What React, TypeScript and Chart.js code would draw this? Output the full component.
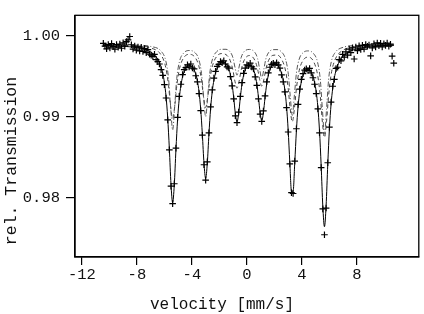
import React, { useEffect, useRef } from 'react';
import { Chart, registerables } from 'chart.js';

Chart.register(...registerables);

// velocity calibration of the measured channels (mm/s)
const V_START = -10.44;
const V_STEP = 0.12;

// measured relative transmission (+ markers)
const DATA = [
  0.99905, 0.99872, 0.99838, 0.99891, 0.9985, 0.99902, 0.99866, 0.99833, 0.99889, 0.99858,
  0.99896, 0.99845, 0.99912, 0.9987, 0.99927, 0.99948, 0.9999, 0.99888, 0.99835, 0.99872,
  0.9982, 0.99861, 0.99812, 0.99858, 0.99805, 0.9984, 0.9979, 0.99828, 0.99772, 0.9976,
  0.99745, 0.9977, 0.99705, 0.9968, 0.9965, 0.9958, 0.9951, 0.99395, 0.9923, 0.9896,
  0.9859, 0.9814, 0.97925, 0.9817, 0.9861, 0.9899, 0.9925, 0.994, 0.9952, 0.9958,
  0.99605, 0.9964, 0.99615, 0.9965, 0.996, 0.9959, 0.99505, 0.9943, 0.99285, 0.99075,
  0.9877, 0.98405, 0.98215, 0.9844, 0.988, 0.9912, 0.9933, 0.99475, 0.9956, 0.9962,
  0.99645, 0.9968, 0.99665, 0.9969, 0.9965, 0.99615, 0.996, 0.99495, 0.9938, 0.9922,
  0.9901, 0.98925, 0.99055, 0.9925, 0.9942, 0.99535, 0.996, 0.9964, 0.9963, 0.9966,
  0.99615, 0.9959, 0.9949, 0.99385, 0.9922, 0.9903, 0.9894, 0.9907, 0.99255, 0.9943,
  0.9954, 0.9961, 0.99645, 0.9966, 0.9964, 0.99665, 0.9964, 0.996, 0.99515, 0.9943,
  0.99305, 0.9911, 0.9881, 0.98415, 0.9806, 0.9805, 0.9845, 0.9885, 0.9915, 0.9934,
  0.9946, 0.9953, 0.99575, 0.9959, 0.9957, 0.99595, 0.9954, 0.9948, 0.994, 0.99285,
  0.99095, 0.988, 0.9837, 0.9786, 0.9754, 0.9787, 0.9843, 0.9887, 0.9918, 0.99375,
  0.9946, 0.99595, 0.9961, 0.99705, 0.9969, 0.9977, 0.99735, 0.998, 0.9976, 0.99835,
  0.9979, 0.9985, 0.99712, 0.9986, 0.99815, 0.99875, 0.9983, 0.9988, 0.99835, 0.9989,
  0.9987, 0.99885, 0.9975, 0.9985, 0.999, 0.9986, 0.9991, 0.99875, 0.99905, 0.9986,
  0.999, 0.9988, 0.99908, 0.9987, 0.99895, 0.99748, 0.9966,
];

// fitted total spectrum (solid line) on the same channels
const FIT = [
  0.9988, 0.99879, 0.99879, 0.99878, 0.99878, 0.99877, 0.99876, 0.99875, 0.99874, 0.99873,
  0.99872, 0.99871, 0.9987, 0.99868, 0.99867, 0.99865, 0.99863, 0.99861, 0.99858, 0.99856,
  0.99853, 0.9985, 0.99846, 0.99842, 0.99837, 0.99831, 0.99824, 0.99816, 0.99806, 0.99795,
  0.9978, 0.99762, 0.99739, 0.99709, 0.99669, 0.99614, 0.99536, 0.99422, 0.9925, 0.98987,
  0.98606, 0.98165, 0.97938, 0.98156, 0.98591, 0.98965, 0.9922, 0.99384, 0.99489, 0.99555,
  0.99597, 0.99622, 0.99631, 0.99628, 0.99612, 0.9958, 0.99527, 0.99442, 0.99305, 0.99093,
  0.98783, 0.98422, 0.98238, 0.98423, 0.98786, 0.99097, 0.99311, 0.9945, 0.99539, 0.99597,
  0.99636, 0.99659, 0.9967, 0.99671, 0.99659, 0.99635, 0.99591, 0.99519, 0.99405, 0.99235,
  0.99038, 0.98937, 0.99036, 0.99232, 0.99399, 0.99511, 0.9958, 0.99619, 0.99638, 0.99637,
  0.9962, 0.99582, 0.99514, 0.99404, 0.99241, 0.99049, 0.98952, 0.99047, 0.99238, 0.99402,
  0.99512, 0.9958, 0.9962, 0.99641, 0.99648, 0.99642, 0.99624, 0.9959, 0.99536, 0.99455,
  0.99328, 0.99132, 0.98835, 0.98433, 0.98079, 0.98078, 0.98429, 0.98827, 0.99121, 0.99311,
  0.99431, 0.99507, 0.99552, 0.99576, 0.99583, 0.99575, 0.99548, 0.99501, 0.99426, 0.99306,
  0.99118, 0.98823, 0.98395, 0.97893, 0.97639, 0.97901, 0.98409, 0.98847, 0.99151, 0.99349,
  0.99481, 0.9957, 0.99634, 0.9968, 0.99715, 0.99741, 0.99763, 0.99779, 0.99793, 0.99803,
  0.99813, 0.99821, 0.99828, 0.99834, 0.99838, 0.99843, 0.99847, 0.9985, 0.99853, 0.99856,
  0.99859, 0.9986, 0.99863, 0.99864, 0.99866, 0.99868, 0.99869, 0.9987, 0.99871, 0.99872,
  0.99873, 0.99875, 0.99875, 0.99876, 0.99877, 0.99878, 0.99879,
];

// subspectra (dash-dot and dashed curves)
const V_SUB = [
  -10.44, -9.2, -8.0, -7.0, -6.2, -5.9, -5.7, -5.55, -5.4, -5.25, -5.1, -4.9, -4.6, -4.2,
  -3.8, -3.5, -3.3, -3.15, -3.0, -2.85, -2.7, -2.5, -2.2, -1.86, -1.52, -1.22, -1.02, -0.87,
  -0.72, -0.57, -0.42, -0.22, 0.18, 0.58, 0.78, 0.93, 1.08, 1.23, 1.38, 1.58, 1.88, 2.19,
  2.5, 2.8, 3.0, 3.15, 3.3, 3.45, 3.6, 3.8, 4.1, 4.47, 4.84, 5.14, 5.34, 5.49, 5.64, 5.79,
  5.94, 6.14, 6.44, 7.0, 8.0, 9.2, 10.7,
];
const SUB_A = [
  0.99891, 0.99888, 0.99883, 0.99867, 0.99801, 0.9969, 0.99476, 0.9913, 0.98834, 0.99128,
  0.99472, 0.99682, 0.99785, 0.99817, 0.99794, 0.99708, 0.99532, 0.99244, 0.98998, 0.99246,
  0.99535, 0.99712, 0.99802, 0.99832, 0.99832, 0.998, 0.9973, 0.99612, 0.99511, 0.99612,
  0.99729, 0.998, 0.9983, 0.99793, 0.99715, 0.99584, 0.99471, 0.99583, 0.99714, 0.99792,
  0.99827, 0.99828, 0.99802, 0.99714, 0.99541, 0.99257, 0.99015, 0.99256, 0.99537, 0.99709,
  0.99792, 0.99812, 0.9978, 0.99671, 0.99451, 0.99091, 0.98783, 0.99093, 0.99456, 0.9968,
  0.99797, 0.99856, 0.9988, 0.99887, 0.99891,
];
const SUB_B = [
  0.99888, 0.99884, 0.99874, 0.99849, 0.99751, 0.99607, 0.99386, 0.99132, 0.98976, 0.99127,
  0.99378, 0.99594, 0.99726, 0.9977, 0.99738, 0.99629, 0.99449, 0.99239, 0.99112, 0.99241,
  0.99452, 0.9963, 0.99743, 0.99779, 0.99766, 0.99696, 0.99577, 0.99437, 0.99351, 0.99435,
  0.99573, 0.99689, 0.99755, 0.99695, 0.99586, 0.99456, 0.99376, 0.99455, 0.99586, 0.99696,
  0.99757, 0.99761, 0.99715, 0.99576, 0.99352, 0.99093, 0.98935, 0.99091, 0.99347, 0.99567,
  0.99699, 0.99735, 0.99683, 0.99516, 0.99246, 0.98931, 0.98741, 0.98936, 0.99256, 0.99534,
  0.99715, 0.99821, 0.99866, 0.9988, 0.99887,
];

const X_TICKS = [-12, -8, -4, 0, 4, 8];
const Y_TICKS = [0.98, 0.99, 1.0];
const X_MIN = -12.5;
const X_MAX = 12.5;
const Y_MIN = 0.97265;
const Y_MAX = 1.00252;
const X_TITLE = 'velocity [mm/s]';
const Y_TITLE = 'rel. Transmission';

const FONT = '"Liberation Mono", "DejaVu Sans Mono", monospace';

const framePlugin = {
  id: 'frameAndTitles',
  afterDraw(chart: any) {
    const { ctx, chartArea: a } = chart;
    ctx.save();
    ctx.strokeStyle = '#000';
    ctx.lineWidth = 1.3;
    ctx.strokeRect(a.left, a.top, a.right - a.left, a.bottom - a.top);
    ctx.fillStyle = '#111';
    ctx.textBaseline = 'alphabetic';
    ctx.textAlign = 'center';
    ctx.font = `16px ${FONT}`;
    ctx.fillText(X_TITLE, 222, 309);
    ctx.translate(16, 161);
    ctx.rotate(-Math.PI / 2);
    ctx.font = `16.5px ${FONT}`;
    ctx.fillText(Y_TITLE, 0, 0);
    ctx.restore();
  },
};

export default function App() {
  const ref = useRef<HTMLCanvasElement>(null);

  useEffect(() => {
    const canvas = ref.current;
    if (!canvas) return;
    const pts = DATA.map((y, i) => ({ x: V_START + i * V_STEP, y }));
    const fit = FIT.map((y, i) => ({ x: V_START + i * V_STEP, y }));
    const subA = V_SUB.map((x, i) => ({ x, y: SUB_A[i] }));
    const subB = V_SUB.map((x, i) => ({ x, y: SUB_B[i] }));

    const chart = new Chart(canvas, {
      type: 'scatter',
      data: {
        datasets: [
          {
            label: 'data',
            data: pts,
            showLine: false,
            pointStyle: 'cross',
            pointRadius: 3.3,
            borderColor: '#000',
            backgroundColor: '#000',
            borderWidth: 1.2,
          },
          {
            label: 'fit',
            data: fit,
            showLine: true,
            pointRadius: 0,
            borderColor: '#000',
            borderWidth: 1,
            cubicInterpolationMode: 'monotone',
          },
          {
            label: 'sub A',
            data: subA,
            showLine: true,
            pointRadius: 0,
            borderColor: '#555',
            borderWidth: 1,
            borderDash: [5, 2, 1, 2],
            cubicInterpolationMode: 'monotone',
          },
          {
            label: 'sub B',
            data: subB,
            showLine: true,
            pointRadius: 0,
            borderColor: '#444',
            borderWidth: 1,
            borderDash: [4, 3],
            cubicInterpolationMode: 'monotone',
          },
        ],
      } as any,
      options: {
        responsive: false,
        animation: false,
        events: [],
        layout: { padding: { left: 0, top: 8, right: 3, bottom: 0 } },
        plugins: {
          legend: { display: false },
          tooltip: { enabled: false },
        },
        scales: {
          x: {
            type: 'linear',
            min: X_MIN,
            max: X_MAX,
            afterFit: (s: any) => {
              s.height = 57;
            },
            afterBuildTicks: (s: any) => {
              s.ticks = X_TICKS.map((v) => ({ value: v }));
            },
            grid: {
              drawOnChartArea: false,
              drawTicks: true,
              tickLength: 8,
              color: '#000',
              tickColor: '#000',
              lineWidth: 1.2,
            },
            border: { display: true, color: '#000', width: 1.3 },
            ticks: {
              color: '#111',
              font: { family: FONT, size: 15.5 },
              padding: 1,
              maxRotation: 0,
              autoSkip: false,
              callback: (v: any) => String(v),
            },
          },
          y: {
            type: 'linear',
            min: Y_MIN,
            max: Y_MAX,
            afterFit: (s: any) => {
              s.width = 75;
            },
            afterBuildTicks: (s: any) => {
              s.ticks = Y_TICKS.map((v) => ({ value: v }));
            },
            grid: {
              drawOnChartArea: false,
              drawTicks: true,
              tickLength: 9,
              color: '#000',
              tickColor: '#000',
              lineWidth: 1.2,
            },
            border: { display: true, color: '#000', width: 1.3 },
            ticks: {
              color: '#111',
              font: { family: FONT, size: 15.5 },
              padding: 6,
              autoSkip: false,
              callback: (v: any) => Number(v).toFixed(2),
            },
          },
        },
      } as any,
      plugins: [framePlugin],
    });
    return () => chart.destroy();
  }, []);

  return (
    <div style={{ position: 'fixed', left: 0, top: 0, width: 424, height: 314, background: '#fff' }}>
      <canvas ref={ref} width={424} height={314} style={{ display: 'block' }} />
    </div>
  );
}
